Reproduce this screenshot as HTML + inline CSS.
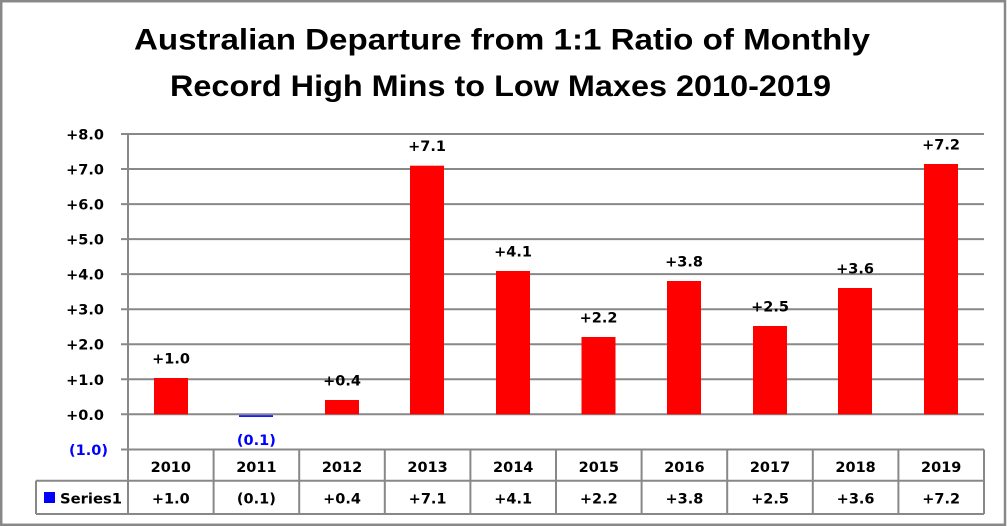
<!DOCTYPE html>
<html><head><meta charset="utf-8"><style>
html,body{margin:0;padding:0;background:#fff;}
svg{display:block;}
.t{font-family:"Liberation Sans",Arial,sans-serif;font-weight:bold;font-size:30px;fill:#000;}
.l{font-family:"DejaVu Sans","Liberation Sans",sans-serif;font-weight:bold;font-size:14.5px;fill:#000;}
.b{fill:#0000ff;}
</style></head><body>
<svg width="1007" height="526" viewBox="0 0 1007 526" xmlns="http://www.w3.org/2000/svg">
<rect x="0" y="0" width="1007" height="526" fill="#fff"/>
<rect x="1.2" y="1.2" width="1003.8" height="523.6" fill="none" stroke="#888" stroke-width="2.5"/>
<text class="t" x="134" y="49.5" textLength="736" lengthAdjust="spacingAndGlyphs">Australian Departure from 1:1 Ratio of Monthly</text>
<text class="t" x="170" y="96" textLength="661" lengthAdjust="spacingAndGlyphs">Record High Mins to Low Maxes 2010-2019</text>
<g stroke="#888" stroke-width="2" fill="none">
<line x1="121" y1="134" x2="984" y2="134"/>
<line x1="121" y1="169" x2="984" y2="169"/>
<line x1="121" y1="204.1" x2="984" y2="204.1"/>
<line x1="121" y1="239.1" x2="984" y2="239.1"/>
<line x1="121" y1="274.1" x2="984" y2="274.1"/>
<line x1="121" y1="309.2" x2="984" y2="309.2"/>
<line x1="121" y1="344.2" x2="984" y2="344.2"/>
<line x1="121" y1="379.3" x2="984" y2="379.3"/>
<line x1="121" y1="414.3" x2="984" y2="414.3"/>
<line x1="121" y1="449.5" x2="984" y2="449.5"/>
<line x1="36" y1="480.7" x2="984" y2="480.7"/>
<line x1="36" y1="514" x2="984" y2="514"/>
<line x1="36" y1="480.7" x2="36" y2="514"/>
<line x1="128" y1="134" x2="128" y2="514"/>
<line x1="213.6" y1="449.5" x2="213.6" y2="514"/>
<line x1="299.2" y1="449.5" x2="299.2" y2="514"/>
<line x1="384.8" y1="449.5" x2="384.8" y2="514"/>
<line x1="470.4" y1="449.5" x2="470.4" y2="514"/>
<line x1="556" y1="449.5" x2="556" y2="514"/>
<line x1="641.6" y1="449.5" x2="641.6" y2="514"/>
<line x1="727.2" y1="449.5" x2="727.2" y2="514"/>
<line x1="812.8" y1="449.5" x2="812.8" y2="514"/>
<line x1="898.4" y1="449.5" x2="898.4" y2="514"/>
<line x1="984" y1="449.5" x2="984" y2="514"/>
</g>
<g fill="#ff0000">
<rect x="154" y="378" width="34" height="36.3"/>
<rect x="325" y="400" width="34" height="14.3"/>
<rect x="410" y="165.7" width="34" height="248.6"/>
<rect x="496" y="271" width="34" height="143.3"/>
<rect x="581.5" y="337" width="34" height="77.3"/>
<rect x="667" y="281" width="34" height="133.3"/>
<rect x="753" y="326" width="34" height="88.3"/>
<rect x="838" y="288" width="34" height="126.3"/>
<rect x="924" y="164" width="34" height="250.3"/>
</g>
<rect x="239" y="415.3" width="34" height="1.6" fill="#0000ff"/>
<g class="l" text-anchor="end">
<text x="104" y="139.5">+8.0</text>
<text x="104" y="174.5">+7.0</text>
<text x="104" y="209.6">+6.0</text>
<text x="104" y="244.6">+5.0</text>
<text x="104" y="279.6">+4.0</text>
<text x="104" y="314.7">+3.0</text>
<text x="104" y="349.7">+2.0</text>
<text x="104" y="384.8">+1.0</text>
<text x="104" y="419.8">+0.0</text>
<text x="108" y="455" class="l b">(1.0)</text>
</g>
<g class="l" text-anchor="middle">
<text x="171" y="363.5">+1.0</text>
<text x="256.4" y="445" class="l b">(0.1)</text>
<text x="342" y="385.5">+0.4</text>
<text x="427" y="151">+7.1</text>
<text x="513" y="256.5">+4.1</text>
<text x="598.5" y="322.5">+2.2</text>
<text x="684" y="266.5">+3.8</text>
<text x="770" y="311.5">+2.5</text>
<text x="855" y="273.5">+3.6</text>
<text x="941" y="149.5">+7.2</text>
</g>
<g class="l" text-anchor="middle">
<text x="170.8" y="472">2010</text>
<text x="256.4" y="472">2011</text>
<text x="342" y="472">2012</text>
<text x="427.6" y="472">2013</text>
<text x="513.2" y="472">2014</text>
<text x="598.8" y="472">2015</text>
<text x="684.4" y="472">2016</text>
<text x="770" y="472">2017</text>
<text x="855.6" y="472">2018</text>
<text x="941.2" y="472">2019</text>
<text x="170.8" y="503.3">+1.0</text>
<text x="256.4" y="503.3">(0.1)</text>
<text x="342" y="503.3">+0.4</text>
<text x="427.6" y="503.3">+7.1</text>
<text x="513.2" y="503.3">+4.1</text>
<text x="598.8" y="503.3">+2.2</text>
<text x="684.4" y="503.3">+3.8</text>
<text x="770" y="503.3">+2.5</text>
<text x="855.6" y="503.3">+3.6</text>
<text x="941.2" y="503.3">+7.2</text>
</g>
<rect x="44" y="492" width="11" height="11" fill="#0000ff"/>
<text class="l" x="60" y="503.3" textLength="62" lengthAdjust="spacingAndGlyphs">Series1</text>
</svg>
</body></html>
